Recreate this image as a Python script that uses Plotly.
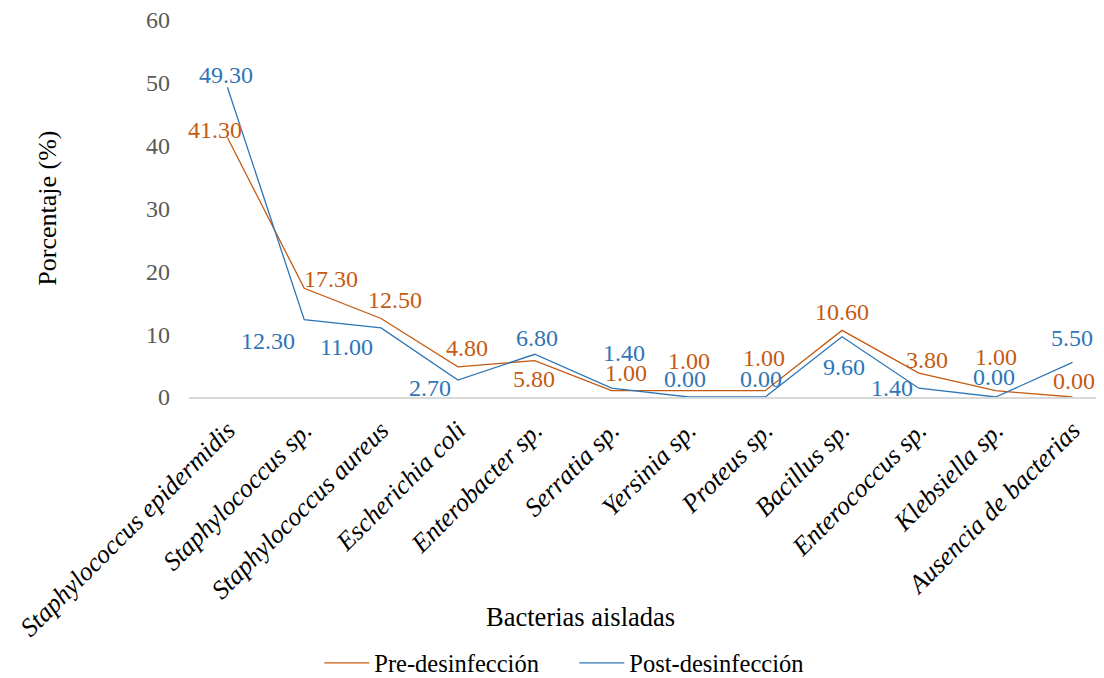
import plotly.graph_objects as go

categories = ["Staphylococcus epidermidis", "Staphylococcus sp.", "Staphylococcus aureus",
              "Escherichia coli", "Enterobacter sp.", "Serratia sp.", "Yersinia sp.",
              "Proteus sp.", "Bacillus sp.", "Enterococcus sp.", "Klebsiella sp.",
              "Ausencia de bacterias"]
pre_values = [41.3, 17.3, 12.5, 4.8, 5.8, 1.0, 1.0, 1.0, 10.6, 3.8, 1.0, 0.0]
post_values = [49.3, 12.3, 11.0, 2.7, 6.8, 1.4, 0.0, 0.0, 9.6, 1.4, 0.0, 5.5]
y_ticks = [0, 10, 20, 30, 40, 50, 60]

# label offsets (pixels) for data labels
pre_dx = [-12, 27, 14, 9, -1, 14, 1, -1, 0, 8, 0, 1]
pre_dy = [8, 9, 18, 19, -18, 18, 30, 33, 18, 13, 34, 16]
post_dx = [-1, -36, -35, -28, 2, 12, -3, -4, 2, -27, -2, -1]
post_dy = [12, -21, -19, -8, 16, 35, 18, 18, -30, 0, 20, 24]

ORANGE = "#C55A11"
BLUE = "#2E75B6"
FONT = "Liberation Serif, Times New Roman, serif"

x_idx = list(range(len(categories)))

fig = go.Figure()
fig.add_trace(go.Scatter(x=x_idx, y=pre_values, mode="lines", name="Pre-desinfección",
                         line=dict(color=ORANGE, width=1.3)))
fig.add_trace(go.Scatter(x=x_idx, y=post_values, mode="lines", name="Post-desinfección",
                         line=dict(color=BLUE, width=1.3)))

annotations = []
for i, v in enumerate(pre_values):
    annotations.append(dict(x=i, y=v, xref="x", yref="y", text=f"{v:.2f}", showarrow=False,
                            xshift=pre_dx[i], yshift=pre_dy[i],
                            font=dict(family=FONT, size=24, color=ORANGE)))
for i, v in enumerate(post_values):
    annotations.append(dict(x=i, y=v, xref="x", yref="y", text=f"{v:.2f}", showarrow=False,
                            xshift=post_dx[i], yshift=post_dy[i],
                            font=dict(family=FONT, size=24, color=BLUE)))

annotations.append(dict(x=0.428, y=-0.584, xref="paper", yref="paper", text="Bacterias aisladas",
                        showarrow=False, xanchor="center", yanchor="middle",
                        font=dict(family=FONT, size=26.5, color="black")))
annotations.append(dict(x=-0.155, y=0.5, xref="paper", yref="paper", text="Porcentaje (%)",
                        showarrow=False, textangle=-90, xanchor="center", yanchor="middle",
                        font=dict(family=FONT, size=26, color="black")))

fig.update_layout(
    width=1096, height=670,
    margin=dict(l=181, r=0, t=12, b=281),
    paper_bgcolor="white", plot_bgcolor="white",
    font=dict(family=FONT, size=24, color="black"),
    showlegend=True,
    legend=dict(orientation="h", xref="container", yref="container",
                x=0.284, y=0.0224, xanchor="left", yanchor="middle",
                font=dict(family=FONT, size=24.5, color="black"), itemwidth=45,
                entrywidth=195, entrywidthmode="pixels", tracegroupgap=0),
    annotations=annotations,
)
fig.update_xaxes(
    range=[-0.5, 11.41], tickmode="array", tickvals=x_idx, automargin=False,
    ticktext=[f"<i>{c}</i>" for c in categories], tickangle=-45, ticklabelstandoff=6,
    showgrid=False, zeroline=False, showline=True, linecolor="#D9D9D9", linewidth=1.5,
    ticks="", tickfont=dict(family=FONT, size=26, color="black"),
)
fig.update_yaxes(
    range=[0, 60], tickmode="array", tickvals=y_ticks, showgrid=False, zeroline=False,
    showline=False, ticks="", ticklabelstandoff=18, automargin=False,
    ticklabeloverflow="allow",
    tickfont=dict(family=FONT, size=24, color="#595959"),
)

fig.write_html("out.html")
